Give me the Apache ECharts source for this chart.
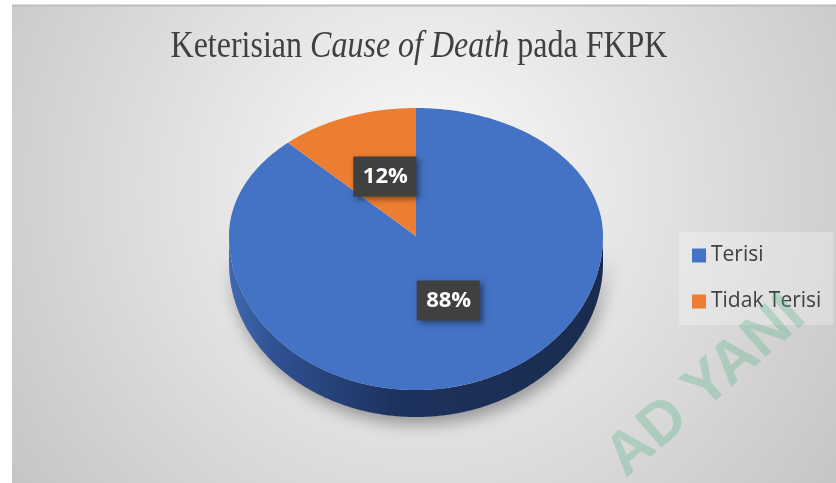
<!DOCTYPE html>
<html>
<head>
<meta charset="utf-8">
<script src="https://cdn.jsdelivr.net/npm/echarts@6/dist/echarts.min.js"></script>
<style>
  html, body { margin: 0; padding: 0; background: #ffffff; }
  #chart { width: 836px; height: 483px; }
</style>
</head>
<body>
<div id="chart"></div>
<script>
// Keterisian Cause of Death pada FKPK - 3D pie
var categories = ['Terisi', 'Tidak Terisi'];
var values = [88, 12];
var sliceColors = ['#4472C4', '#ED7D31'];
var sideColors = ['#2a4a86', '#a9561d'];

var total = values.reduce(function (s, v) { return s + v; }, 0);

// pie geometry (tilted, with perspective: front half deeper than back half)
var CX = 416, CY = 236, RX = 187, RY_TOP = 128, RY_BOT = 154, DEPTH = 27;
var fontStack = '"Open Sans", "Noto Sans", sans-serif';
var serif = '"Liberation Serif", "Times New Roman", serif';

function arcPoint(a, off) {
  var s = Math.sin(a);
  return [CX + RX * Math.cos(a), CY + (s < 0 ? RY_TOP : RY_BOT) * s + off];
}

function arcPoints(a0, a1, off) {
  var pts = [];
  var n = Math.max(2, Math.ceil(Math.abs(a1 - a0) / 0.01));
  for (var k = 0; k <= n; k++) {
    pts.push(arcPoint(a0 + (a1 - a0) * k / n, off));
  }
  return pts;
}

function makeRender(i) {
  return function (params, api) {
    var v = api.value(0);
    var before = 0;
    for (var j = 0; j < i; j++) before += values[j];
    var start = -Math.PI / 2 + before / total * Math.PI * 2;
    var end = start + v / total * Math.PI * 2;
    var children = [];

    // visible front rim: part of [start, end] inside [0, PI] (or [2PI, 3PI])
    [[0, Math.PI], [2 * Math.PI, 3 * Math.PI]].forEach(function (r) {
      var a0 = Math.max(start, r[0]), a1 = Math.min(end, r[1]);
      if (a1 <= a0) return;
      var pts = arcPoints(a0, a1, 0).concat(arcPoints(a1, a0, DEPTH));
      children.push({
        type: 'polygon',
        z2: 1,
        shape: { points: pts },
        style: {
          fill: new echarts.graphic.LinearGradient(0, 0, 1, 0, i === 0 ? [
            { offset: 0, color: '#4169b2' },
            { offset: 0.12, color: '#2f5192' },
            { offset: 0.45, color: '#1d325d' },
            { offset: 1, color: '#1a2b4e' }
          ] : [
            { offset: 0, color: sideColors[i] },
            { offset: 1, color: '#7a3d14' }
          ]),
          shadowBlur: 16,
          shadowOffsetX: 3,
          shadowOffsetY: 7,
          shadowColor: 'rgba(0,0,0,0.35)'
        }
      });
    });

    // top face
    children.push({
      type: 'polygon',
      z2: 10,
      shape: { points: [[CX, CY]].concat(arcPoints(start, end, 0)) },
      style: { fill: sliceColors[i] }
    });

    // data label
    var mid = (start + end) / 2;
    var lp = [CX + RX * 0.46 * Math.cos(mid), 0];
    var sm = Math.sin(mid);
    lp[1] = CY + (sm < 0 ? RY_TOP * 0.5 : RY_BOT * 0.45) * sm;
    var pct = Math.round(v / total * 100) + '%';
    children.push({
      type: 'rect',
      z2: 20,
      shape: { x: lp[0] - 31, y: lp[1] - 20, width: 63, height: 40 },
      style: {
        fill: '#404040',
        shadowBlur: 6,
        shadowOffsetX: 3,
        shadowOffsetY: 3,
        shadowColor: 'rgba(0,0,0,0.45)'
      }
    });
    children.push({
      type: 'text',
      z2: 21,
      x: lp[0] + 1,
      y: lp[1],
      style: {
        text: pct,
        fill: '#ffffff',
        font: 'bold 22px ' + fontStack,
        align: 'center',
        verticalAlign: 'middle'
      }
    });

    return { type: 'group', children: children };
  };
}

var chart = echarts.init(document.getElementById('chart'));

chart.setOption({
  animation: false,
  color: sliceColors,
  legend: {
    data: categories,
    orient: 'vertical',
    left: 679,
    top: 232,
    padding: [13, 12, 13, 13],
    icon: 'rect',
    itemWidth: 14,
    itemHeight: 14,
    itemGap: 25,
    backgroundColor: 'rgba(255,255,255,0.28)',
    textStyle: { color: '#404040', fontFamily: fontStack, fontSize: 21 }
  },
  graphic: [
    {
      type: 'rect',
      z: -10,
      silent: true,
      shape: { x: 12, y: 5, width: 824, height: 478 },
      style: {
        fill: new echarts.graphic.RadialGradient(0.5, 0.38, 1.05, [
          { offset: 0, color: '#fbfbfb' },
          { offset: 1, color: '#c6c6c6' }
        ])
      }
    },
    {
      type: 'line',
      z: -9,
      silent: true,
      shape: { x1: 12, y1: 5.5, x2: 836, y2: 5.5 },
      style: { stroke: '#bdbdbd', lineWidth: 2 }
    },
    {
      // chart title (glyphs slightly tall/condensed as in the source)
      type: 'text',
      z: 50,
      silent: true,
      x: 419,
      y: 47,
      scaleX: 0.97,
      scaleY: 1.18,
      style: {
        text: '{a|Keterisian }{b|Cause of Death}{a| pada FKPK}',
        align: 'center',
        verticalAlign: 'middle',
        rich: {
          a: { fontFamily: serif, fontSize: 33, fontWeight: 'normal', fill: '#404040' },
          b: { fontFamily: serif, fontSize: 33, fontWeight: 'normal', fill: '#404040', fontStyle: 'italic' }
        }
      }
    },
    {
      type: 'text',
      z: 100,
      silent: true,
      x: 706,
      y: 387,
      rotation: 41 * Math.PI / 180,
      style: {
        text: 'AD YANI',
        font: 'bold 60px "Liberation Sans", sans-serif',
        fill: 'rgba(80,180,130,0.3)',
        align: 'center',
        verticalAlign: 'middle'
      }
    }
  ],
  series: categories.map(function (name, i) {
    return {
      type: 'custom',
      name: name,
      coordinateSystem: 'none',
      data: [[values[i]]],
      itemStyle: { color: sliceColors[i] },
      renderItem: makeRender(i)
    };
  })
});

window.addEventListener('resize', function () { chart.resize(); });
</script>
</body>
</html>
